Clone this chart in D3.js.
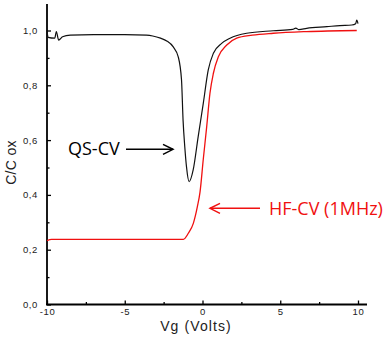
<!DOCTYPE html>
<html>
<head>
<meta charset="utf-8">
<script src="https://cdn.jsdelivr.net/npm/d3@7"></script>
<style>
  body { margin: 0; background: #fff; }
  svg { display: block; }
</style>
</head>
<body>
<div id="chart"></div>
<script>
const WIDTH = 385;
const HEIGHT = 342;

// QS-CV (black) : [Vg, C/Cox]
const qsX = [-10, -9.93, -9.5, -9.4, -9.25, -9.0, -8.5, -7, -5, -3.6, -3.2, -2.7, -2.3, -1.88, -1.56, -1.35, -1.25, -1.14, -1.03, -0.86, -0.6, -0.28, 0.05, 0.37, 0.7, 1.23, 1.77, 2.84, 4.55, 5.8, 6.0, 6.2, 6.7, 8.0, 8.84, 9.6, 9.85, 9.92, 10.0];
const qsY = [1.0, 0.975, 0.972, 0.996, 0.965, 0.977, 0.983, 0.985, 0.985, 0.983, 0.98, 0.972, 0.962, 0.94, 0.904, 0.82, 0.673, 0.576, 0.503, 0.448, 0.491, 0.612, 0.734, 0.856, 0.917, 0.953, 0.972, 0.99, 0.999, 1.004, 1.009, 1.003, 1.008, 1.014, 1.018, 1.02, 1.025, 1.038, 1.025];

// HF-CV 1MHz (red)
const hfX = [-10, -9.7, -5, -1.23, -0.91, -0.59, -0.33, -0.16, 0.05, 0.27, 0.48, 0.7, 1.02, 1.56, 2.2, 3.2, 4.55, 6.7, 9.92];
const hfY = [0.233, 0.238, 0.238, 0.238, 0.26, 0.296, 0.357, 0.41, 0.53, 0.649, 0.771, 0.844, 0.904, 0.947, 0.972, 0.983, 0.99, 0.996, 1.0];

const xTicks = [-10, -5, 0, 5, 10];
const xMinor = [-7.5, -2.5, 2.5, 7.5];
const yTicks = [0, 0.2, 0.4, 0.6, 0.8, 1.0];
const yMinor = [0.1, 0.3, 0.5, 0.7, 0.9];

function setup(){
    let svg = d3.select("#chart")
        .append("svg")
        .attr("width", WIDTH)
        .attr("height", HEIGHT);

    let x = d3.scaleLinear().domain([-10, 10]).range([47, 358]);
    let y = d3.scaleLinear().domain([0, 1]).range([304.5, 30.5]);

    let fmt = d => d3.format(".1f")(d).replace(".", ",");

    // axis lines
    svg.append("line")
        .attr("x1", 47).attr("x2", 47)
        .attr("y1", 4).attr("y2", 305)
        .attr("stroke", "#000").attr("stroke-width", 1.8);
    svg.append("line")
        .attr("x1", 46).attr("x2", 367)
        .attr("y1", 304.5).attr("y2", 304.5)
        .attr("stroke", "#000").attr("stroke-width", 1.8);

    let yAxis = svg.append("g")
        .attr("transform", "translate(47,0)")
        .call(d3.axisLeft(y).tickValues(yTicks).tickSize(-4).tickSizeOuter(0).tickPadding(9).tickFormat(fmt));
    let yMin = svg.append("g")
        .attr("transform", "translate(47,0)")
        .call(d3.axisLeft(y).tickValues(yMinor).tickSize(-2.5).tickSizeOuter(0).tickFormat(""));

    let xAxis = svg.append("g")
        .attr("transform", "translate(0,304.5)")
        .call(d3.axisBottom(x).tickValues(xTicks).tickSize(-4).tickSizeOuter(0).tickPadding(4).tickFormat(d => d < 0 ? "-" + Math.abs(d) : d));
    let xMin = svg.append("g")
        .attr("transform", "translate(0,304.5)")
        .call(d3.axisBottom(x).tickValues(xMinor).tickSize(-2.5).tickSizeOuter(0).tickFormat(""));

    [yAxis, yMin, xAxis, xMin].forEach(g => {
        g.select(".domain").remove();
        g.selectAll(".tick line").attr("stroke", "#000").attr("stroke-width", 1.3);
        g.selectAll("text")
            .style("font-family", "'Liberation Sans', Arial, sans-serif")
            .style("font-size", "9.5px")
            .style("letter-spacing", "0.6px")
            .attr("fill", "#222");
    });

    // axis titles
    svg.append("text")
        .attr("x", 196).attr("y", 330.5)
        .attr("text-anchor", "middle")
        .style("font-family", "'Liberation Sans', Arial, sans-serif")
        .style("font-size", "14px")
        .style("letter-spacing", "1.1px")
        .attr("fill", "#222")
        .text("Vg (Volts)");

    svg.append("text")
        .attr("transform", "translate(16,162.5) rotate(-90)")
        .attr("text-anchor", "middle")
        .style("font-family", "'Liberation Sans', Arial, sans-serif")
        .style("font-size", "14px")
        .style("letter-spacing", "0.3px")
        .attr("fill", "#222")
        .text("C/C ox");

    // curves
    let line = d3.line()
        .x(d => x(d[0]))
        .y(d => y(d[1]))
        .curve(d3.curveMonotoneX);

    svg.append("path")
        .datum(hfX.map((v, i) => [v, hfY[i]]))
        .attr("d", line)
        .attr("fill", "none")
        .attr("stroke", "#f01010")
        .attr("stroke-width", 1.3);

    svg.append("path")
        .datum(qsX.map((v, i) => [v, qsY[i]]))
        .attr("d", line)
        .attr("fill", "none")
        .attr("stroke", "#111")
        .attr("stroke-width", 1.2);

    // annotations
    function arrow(x1, x2, yy, color){
        let dir = x2 > x1 ? 1 : -1;
        svg.append("line")
            .attr("x1", x1).attr("x2", x2)
            .attr("y1", yy).attr("y2", yy)
            .attr("stroke", color).attr("stroke-width", 1.5);
        svg.append("path")
            .attr("d", `M${x2 - dir * 10},${yy - 5}L${x2},${yy}L${x2 - dir * 10},${yy + 5}`)
            .attr("fill", "none")
            .attr("stroke", color).attr("stroke-width", 1.5);
    }

    svg.append("text")
        .attr("x", 68).attr("y", 154.5)
        .style("font-family", "'Open Sans', sans-serif")
        .style("font-size", "18px")
        .attr("fill", "#000")
        .text("QS-CV");
    arrow(126, 173, 149.3, "#000");

    svg.append("text")
        .attr("x", 269).attr("y", 215)
        .style("font-family", "'Open Sans', sans-serif")
        .style("font-size", "18px")
        .attr("fill", "#f01010")
        .text("HF-CV (1MHz)");
    arrow(260, 210, 208.3, "#f01010");
}

window.addEventListener("load", setup);
</script>
</body>
</html>
